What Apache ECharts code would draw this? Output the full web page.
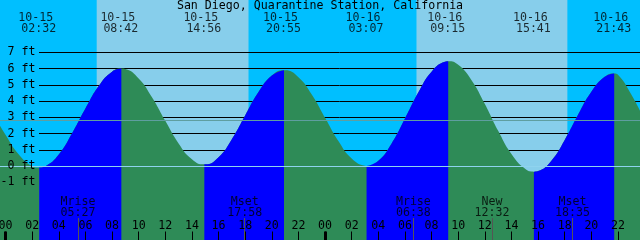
<!DOCTYPE html>
<html><head><meta charset="utf-8">
<script src="https://cdn.jsdelivr.net/npm/echarts@6/dist/echarts.min.js"></script>
<style>html,body{margin:0;padding:0;background:#00BFFF;overflow:hidden}#c{width:640px;height:240px}</style>
</head><body><div id="c"></div>
<script>
// ---------------- data ----------------
const titleText = 'San Diego, Quarantine Station, California';
const firstDay = '10-15';

// tide height readings (ft) at whole hours from 10-15 00:00
const hourlyHours = [-1,0,1,2,3,4,5,6,7,8,9,10,11,12,13,14,15,16,17,18,19,20,21,22,23,24,25,26,27,28,29,30,31,32,33,34,35,36,37,38,39,40,41,42,43,44,45,46,47,48];
const hourlyFeet  = [3.34,1.92,0.71,0.00,-0.01,0.71,2.01,3.54,4.93,5.81,5.97,5.39,4.23,2.78,1.39,0.42,0.10,0.54,1.65,3.11,4.55,5.57,5.90,5.47,4.40,2.97,1.54,0.46,0.01,0.32,1.39,2.92,4.53,5.81,6.42,6.23,5.28,3.82,2.17,0.74,-0.16,-0.31,0.33,1.60,3.15,4.57,5.49,5.62,4.40,2.80];

// high / low tide events
const tideDates = ['10-15','10-15','10-15','10-15','10-16','10-16','10-16','10-16'];
const tideTimes = ['02:32','08:42','14:56','20:55','03:07','09:15','15:41','21:43'];
const tideFeet  = [-0.1, 6.0, 0.1, 5.9, 0.0, 6.45, -0.35, 5.7];
const tideTypes = ['L','H','L','H','L','H','L','H'];

// moon events
const moonLabels = ['Mrise','Mset','Mrise','New','Mset'];
const moonDates  = ['10-15','10-15','10-16','10-16','10-16'];
const moonTimes  = ['05:27','17:58','06:38','12:32','18:35'];

// sun
const sunriseDates = ['10-15','10-16'];
const sunriseTimes = ['06:51','06:52'];
const sunsetDates  = ['10-15','10-16'];
const sunsetTimes  = ['18:16','18:13'];

// axis ticks
const feetTicks = [-1,0,1,2,3,4,5,6,7];
const hourTicks = [0,2,4,6,8,10,12,14,16,18,20,22,24,26,28,30,32,34,36,38,40,42,44,46];
const midnightTicks = [0,24];
const mslFeet = 2.8;

// ---------------- layout ----------------
const W = 640, H = 240;
const X_MIN = -0.413, X_MAX = 47.653;
const Y_MIN = -4.556, Y_MAX = 10.22;
const FONT = "'DejaVu Sans Mono', monospace";
const FS = 11.6;
const C_DAY = '#87CEEB', C_NIGHT = '#00BFFF', C_RISE = '#0000FF', C_FALL = '#2E8B57';

function dayIndex(d){ return parseInt(d.split('-')[1],10) - parseInt(firstDay.split('-')[1],10); }
function toHour(d, t){ const p = t.split(':'); return dayIndex(d)*24 + parseInt(p[0],10) + parseInt(p[1],10)/60; }
function pyOf(v){ return (Y_MAX - v) / (Y_MAX - Y_MIN) * H; }

const tideHours = tideDates.map((d,i)=>toHour(d, tideTimes[i]));
const moonHours = moonDates.map((d,i)=>toHour(d, moonTimes[i]));
const sunrise = sunriseDates.map((d,i)=>toHour(d, sunriseTimes[i]));
const sunset  = sunsetDates.map((d,i)=>toHour(d, sunsetTimes[i]));

const pts = hourlyHours.map((h,i)=>[h, hourlyFeet[i]])
  .concat(tideHours.map((h,i)=>[h, tideFeet[i]]))
  .sort((a,b)=>a[0]-b[0]);

const bounds = [-Infinity].concat(tideHours, [Infinity]);
const lineBase = { type: 'line', xAxisIndex: 0, yAxisIndex: 0, smooth: true,
  symbol: 'none', silent: true, animation: false, lineStyle: { width: 0 } };

// falling tide (whole curve, drawn first), rising segments on top
const tideSeries = [Object.assign({}, lineBase, {
  data: pts, z: 3, areaStyle: { color: C_FALL, opacity: 1, origin: 'start' } })];
for (let k = 0; k < bounds.length-1; k++) {
  const rising = k < tideTypes.length ? tideTypes[k] === 'H' : tideTypes[tideTypes.length-1] === 'L';
  if (!rising) continue;
  const seg = pts.filter(p => p[0] >= bounds[k] && p[0] <= bounds[k+1]);
  tideSeries.push(Object.assign({}, lineBase, {
    data: seg, z: 4, areaStyle: { color: C_RISE, opacity: 1, origin: 'start' } }));
}

// background day / night
const bg = [];
const edges = [X_MIN, sunrise[0], sunset[0], sunrise[1], sunset[1], X_MAX];
for (let i = 0; i < edges.length-1; i++) {
  bg.push([{ xAxis: edges[i], itemStyle: { color: i % 2 === 1 ? C_DAY : C_NIGHT, opacity: 1 } }, { xAxis: edges[i+1] }]);
}
tideSeries[0].markArea = { silent: true, z: 1, data: bg, itemStyle: { opacity: 1 } };
tideSeries[0].markLine = {
  silent: true, z: 5, symbol: 'none', animation: false,
  label: { show: false },
  data: [
    { yAxis: 0, lineStyle: { color: '#8FD3EE', width: 1, type: 'solid' } },
    { yAxis: mslFeet, lineStyle: { color: '#5F9EA0', width: 1, type: 'solid' } }
  ]
};

const gTop = pyOf(7), gBottom = H - pyOf(-1);
const pad2 = n => (n < 10 ? '0' : '') + n;

const textStyle = { fontFamily: FONT, fontSize: FS, color: '#000' };

function labelSeries(values, names, dx, dy) {
  return {
    type: 'scatter', xAxisIndex: 0, yAxisIndex: 0, symbolSize: 0, clip: false, silent: true, z: 7,
    animation: false,
    data: values.map((v,i)=>({ value: v, name: names[i] })),
    label: Object.assign({ show: true, position: 'inside', formatter: '{b}', offset: [dx, dy],
      align: 'center', verticalAlign: 'middle' }, textStyle)
  };
}

const series = tideSeries.concat([
  labelSeries(tideHours.map(h=>[h, Y_MAX]), tideDates, -3.5, 17.5),
  labelSeries(tideHours.map(h=>[h, Y_MAX]), tideTimes, -0.5, 29),
  labelSeries(moonHours.map(h=>[h, Y_MIN]), moonLabels, 0, -38),
  labelSeries(moonHours.map(h=>[h, Y_MIN]), moonTimes, 0, -27.5)
]);

const hidden = { axisLine:{show:false, onZero:false}, axisTick:{show:false}, axisLabel:{show:false}, splitLine:{show:false} };
const gridBase = { containLabel: false, outerBoundsMode: 'none' };

const option = {
  backgroundColor: C_NIGHT,
  animation: false,
  title: { text: titleText, left: 'center', top: 0, padding: 0, itemGap: 0,
    textStyle: Object.assign({ fontWeight: 'normal' }, textStyle) },
  grid: [
    Object.assign({ left: 0, right: 0, top: 0, bottom: 0 }, gridBase),
    Object.assign({ left: 39, right: 0, top: gTop, bottom: gBottom }, gridBase),
    Object.assign({ left: 39, right: 0, top: gTop, bottom: gBottom }, gridBase),
    Object.assign({ left: 0, right: 0, top: 0, bottom: 0 }, gridBase),
    Object.assign({ left: 0, right: 0, top: 0, bottom: 0 }, gridBase)
  ],
  xAxis: [
    { gridIndex: 0, type: 'value', min: X_MIN, max: X_MAX, z: 6, position: 'bottom',
      axisLine: { show: false, onZero: false }, splitLine: { show: false },
      axisTick: { show: true, inside: true, length: 8.5, customValues: hourTicks, lineStyle: { color: '#000', width: 1 } },
      axisLabel: Object.assign({ show: true, inside: true, margin: 8, customValues: hourTicks,
        hideOverlap: false,
        formatter: v => pad2(((Math.round(v) % 24) + 24) % 24), showMinLabel: true, showMaxLabel: true }, textStyle) },
    Object.assign({ gridIndex: 1, type: 'value', min: X_MIN, max: X_MAX }, hidden),
    Object.assign({ gridIndex: 2, type: 'value', min: X_MIN, max: X_MAX }, hidden),
    { gridIndex: 3, type: 'value', min: X_MIN, max: X_MAX, z: 6, position: 'bottom',
      axisLine: { show: false, onZero: false }, splitLine: { show: false }, axisLabel: { show: false },
      axisTick: { show: true, inside: true, length: 8.5, customValues: midnightTicks, lineStyle: { color: '#000', width: 3 } } },
    { gridIndex: 4, type: 'value', min: X_MIN, max: X_MAX, z: 6, position: 'bottom',
      axisLine: { show: false, onZero: false }, splitLine: { show: false }, axisLabel: { show: false },
      axisTick: { show: true, inside: true, length: 22, customValues: moonHours, lineStyle: { color: '#555', width: 1 } } }
  ],
  yAxis: [
    Object.assign({ gridIndex: 0, type: 'value', min: Y_MIN, max: Y_MAX }, hidden),
    { gridIndex: 1, type: 'value', min: -1, max: 7, interval: 1, z: 2,
      axisLine: { show: false, onZero: false }, axisTick: { show: false }, axisLabel: { show: false },
      splitLine: { show: true, lineStyle: { color: '#000', width: 1 } } },
    { gridIndex: 2, type: 'value', min: -1, max: 7, interval: 1, z: 6,
      axisLine: { show: false, onZero: false }, axisTick: { show: false }, splitLine: { show: false },
      axisLabel: Object.assign({ show: true, margin: 3.5, formatter: v => v + ' ft' }, textStyle) },
    Object.assign({ gridIndex: 3, type: 'value', min: Y_MIN, max: Y_MAX }, hidden),
    Object.assign({ gridIndex: 4, type: 'value', min: Y_MIN, max: Y_MAX }, hidden)
  ],
  series: series
};

const chart = echarts.init(document.getElementById('c'), null, { renderer: 'canvas', width: W, height: H });
chart.setOption(option);
</script>
</body></html>
